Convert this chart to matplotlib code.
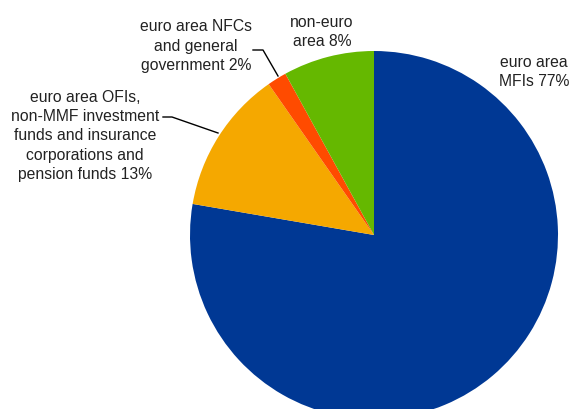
import matplotlib.pyplot as plt

labels = ["euro area\nMFIs 77%", "euro area OFIs,\nnon-MMF investment\nfunds and insurance\ncorporations and\npension funds 13%",
          "euro area NFCs\nand general\ngovernment 2%", "non-euro\narea 8%"]
shares = [77.7, 12.6, 1.7, 8.0]
colors = ["#003894", "#F5A800", "#FF4B00", "#65B800"]

W, H = 571, 410
fig = plt.figure(figsize=(W / 100, H / 100), dpi=100)
ax = fig.add_axes([0, 0, 1, 1])


def py(y):
    # pixel row -> data y
    return H - y


ax.pie(shares, colors=colors, startangle=90, counterclock=False,
       center=(374, py(236)), radius=184, frame=True,
       wedgeprops=dict(linewidth=0))
ax.set_xlim(0, W)
ax.set_ylim(0, H)
ax.set_aspect("equal")
ax.axis("off")

font = dict(family=["Liberation Sans", "DejaVu Sans"], fontsize=11.3, color="#222222",
            ha="center", va="center", linespacing=1.34)
ax.text(534, py(72), labels[0], **font)
ax.text(85, py(136), labels[1], **font)
ax.text(196, py(46), labels[2], **font)
ax.text(322, py(32), labels[3], **font)

ax.plot([253, 263, 278], [py(51), py(51), py(77)], color="black", lw=1)
ax.plot([163, 172, 218], [py(118), py(118), py(134)], color="black", lw=1)

fig.savefig("out.png", dpi=100)
